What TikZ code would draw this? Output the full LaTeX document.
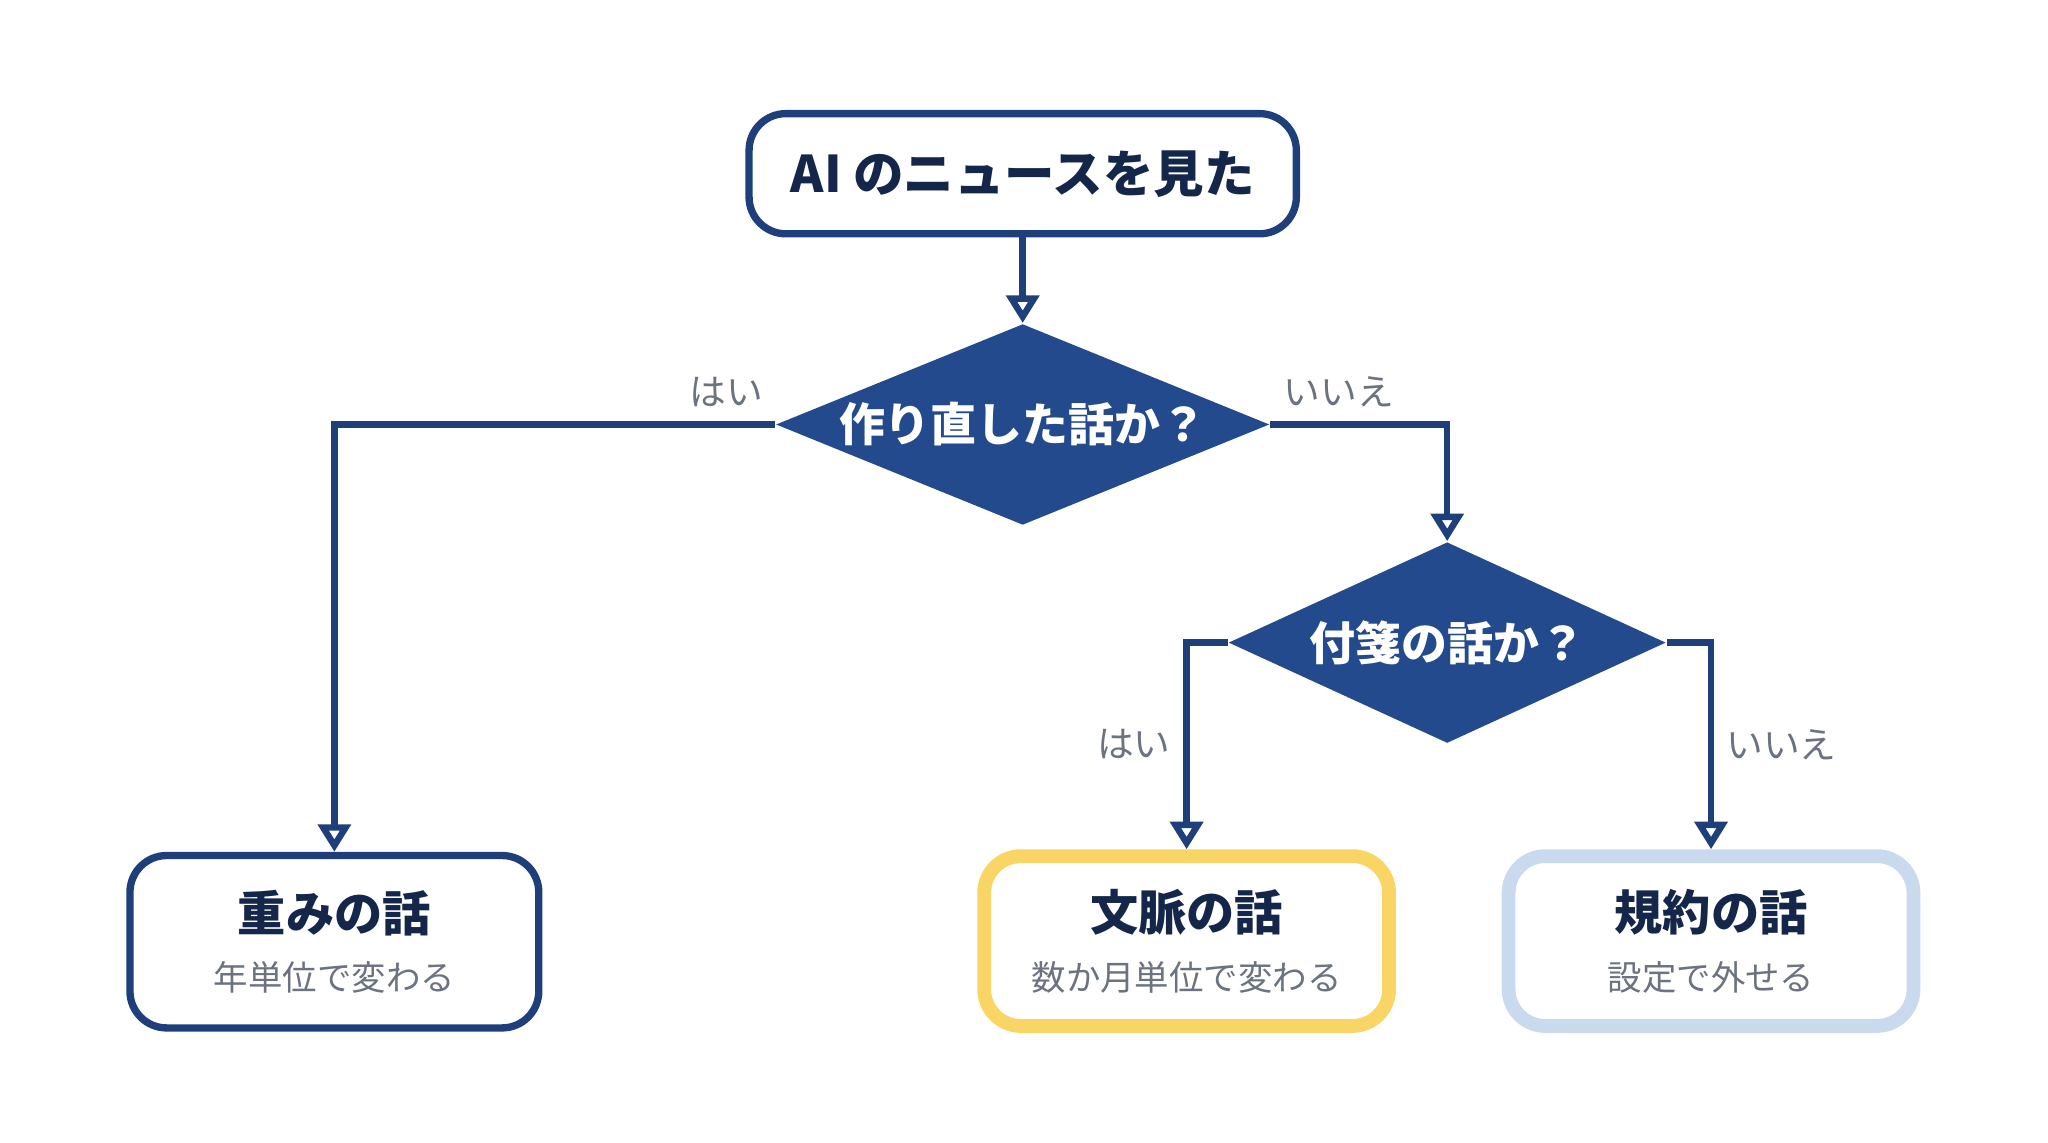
\documentclass[tikz,border=0pt]{standalone}
\usepackage{fontspec}
\setmainfont{Noto Sans CJK JP}
\usetikzlibrary{shapes.geometric,arrows.meta}
\definecolor{navy}{HTML}{1F3F7A}
\definecolor{dfill}{HTML}{234A8C}
\definecolor{ink}{HTML}{14264A}
\definecolor{note}{HTML}{6B7280}
\definecolor{gold}{HTML}{F8D565}
\definecolor{pale}{HTML}{C9D9EE}
\tikzset{
  box/.style={draw=navy, line width=1.6pt, rounded corners=8pt, fill=white,
    minimum width=3.13cm, minimum height=1.32cm, align=center, text=ink},
  ask/.style={diamond, fill=dfill, text=white, font=\fontsize{10}{12}\selectfont\bfseries,
    inner sep=0pt, aspect=2.45},
  flow/.style={draw=navy, line width=1.4pt,
    -{Triangle[open, width=7pt, length=6pt, fill=white]}},
  tag/.style={text=note, font=\fontsize{8}{10}\selectfont},
}
\newcommand{\twoline}[2]{{\fontsize{10.5}{13}\selectfont\bfseries #1}\\[1pt]{\fontsize{7.5}{10}\selectfont\color{note}#2}}
\begin{document}
\begin{tikzpicture}
\useasboundingbox (0,0) rectangle (15.68,-8.75);
\draw (7.83,-1.33) node[box, minimum width=4.19cm, minimum height=0.92cm,
  font=\fontsize{11}{13}\selectfont\bfseries] (News) {AI のニュースを見た};
\draw (7.83,-3.25) node[ask, minimum width=3.78cm, minimum height=1.54cm] (Redo) {作り直した話か？};
\draw (11.08,-4.92) node[ask, minimum width=3.35cm, minimum height=1.54cm] (Memo) {付箋の話か？};
\draw (2.56,-7.21) node[box] (Weight) {\twoline{重みの話}{年単位で変わる}};
\draw (9.085,-7.205) node[box, draw=gold, line width=3pt, minimum width=3.1cm, minimum height=1.3cm] (Context) {\twoline{文脈の話}{数か月単位で変わる}};
\draw (13.1,-7.205) node[box, draw=pale, line width=3pt, minimum width=3.1cm, minimum height=1.3cm] (Rule) {\twoline{規約の話}{設定で外せる}};
% labels
\draw (5.56,-3.0) node[tag] (Y1) {はい};
\draw (10.25,-3.0) node[tag] (N1) {いいえ};
\draw (8.68,-5.7) node[tag] (Y2) {はい};
\draw (13.64,-5.7) node[tag] (N2) {いいえ};

\draw[flow] (News) -- (Redo);
\draw[flow] (Redo.west) -| (Weight.north);
\draw[flow] (Redo.east) -| (Memo.north);
\draw[flow] (Memo.west) -| (Context.north);
\draw[flow] (Memo.east) -| (Rule.north);
\end{tikzpicture}
\end{document}
